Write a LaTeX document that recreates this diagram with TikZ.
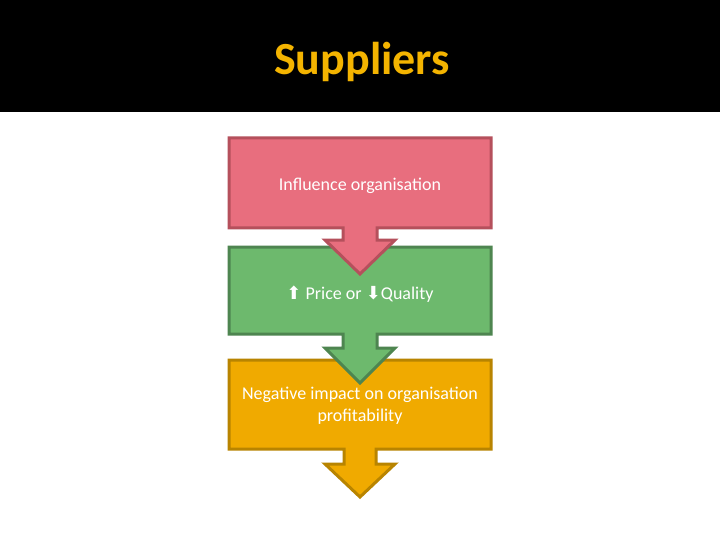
\documentclass[tikz,border=0pt]{standalone}
\usepackage{fontspec}
\setmainfont{Carlito}
\newfontfamily\arrfont{DejaVu Sans}
\begin{document}
\begin{tikzpicture}[x=1pt,y=-1pt,
  blk/.style={line width=3pt,line join=miter},
  lbl/.style={text=white,font=\fontsize{18}{22}\selectfont,align=center}]
\definecolor{pinkf}{HTML}{E86E7E}\definecolor{pinkd}{HTML}{B5505C}
\definecolor{greenf}{HTML}{6DB96D}\definecolor{greend}{HTML}{4E8550}
\definecolor{oraf}{HTML}{F0AA00}\definecolor{orad}{HTML}{B88400}
\definecolor{gold}{HTML}{F4B400}
\useasboundingbox (0,0) rectangle (720,540);
\fill[white] (0,0) rectangle (720,540);
\fill[black] (0,0) rectangle (720,112);
\node[text=gold,font=\fontsize{46}{52}\selectfont\bfseries] (title) at (362,62) {Suppliers};
\draw[blk,fill=oraf,draw=orad] (229,360) -- (491,360) -- (491,449) -- (376,449) -- (376,464) -- (395,464) -- (360,497) -- (325,464) -- (344,464) -- (344,449) -- (229,449) -- cycle;
\draw[blk,fill=greenf,draw=greend] (229,247) -- (491,247) -- (491,334) -- (377,334) -- (377,348) -- (395,348) -- (360,383) -- (325,348) -- (343,348) -- (343,334) -- (229,334) -- cycle;
\draw[blk,fill=pinkf,draw=pinkd] (229,138) -- (491,138) -- (491,228) -- (377,228) -- (377,240) -- (395,240) -- (360,274) -- (325,240) -- (343,240) -- (343,228) -- (229,228) -- cycle;
\node[lbl] (t1) at (360,186) {Influence organisation};
\node[lbl] (t2) at (360,294) {{\arrfont\fontsize{18}{20}\selectfont ⬆} Price or {\arrfont\fontsize{18}{20}\selectfont ⬇}Quality};
\node[lbl] (t3) at (360,406) {Negative impact on organisation\\profitability};
\end{tikzpicture}
\end{document}
